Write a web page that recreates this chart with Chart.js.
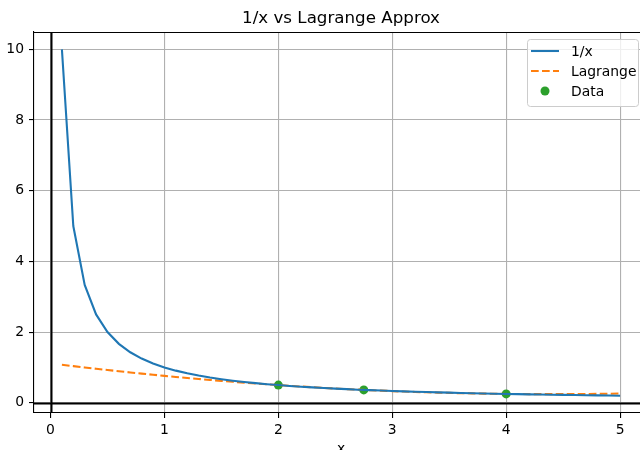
<!DOCTYPE html>
<html>
<head>
<meta charset="utf-8">
<script src="https://cdn.jsdelivr.net/npm/chart.js@4.4.1/dist/chart.umd.min.js"></script>
<style>
  html, body { margin: 0; padding: 0; overflow: hidden; background: #fff; }
  #wrap { width: 660px; height: 470px; }
</style>
</head>
<body>
<div id="wrap"><canvas id="c"></canvas></div>
<script>
// sample points
const xs = [0.1,0.2,0.3,0.4,0.5,0.6,0.7,0.8,0.9,1.0,1.1,1.2,1.3,1.4,1.5,1.6,1.7,1.8,1.9,2.0,
            2.1,2.2,2.3,2.4,2.5,2.6,2.7,2.8,2.9,3.0,3.1,3.2,3.3,3.4,3.5,3.6,3.7,3.8,3.9,4.0,
            4.1,4.2,4.3,4.4,4.5,4.6,4.7,4.8,4.9,5.0];
const invX = [10,5,3.333,2.5,2,1.667,1.429,1.25,1.111,1,0.909,0.833,0.769,0.714,0.667,0.625,0.588,0.556,0.526,0.5,
              0.476,0.455,0.435,0.417,0.4,0.385,0.370,0.357,0.345,0.333,0.323,0.3125,0.303,0.294,0.286,0.278,0.270,0.263,0.256,0.25,
              0.244,0.238,0.233,0.227,0.222,0.217,0.213,0.208,0.204,0.2];
const lagrange = [1.0743,1.0359,0.9984,0.9618,0.9261,0.8914,0.8575,0.8245,0.7925,0.7614,0.7311,0.7018,0.6734,0.6459,0.6193,0.5936,0.5689,0.5450,0.5220,0.5000,
                  0.4789,0.4586,0.4393,0.4209,0.4034,0.3868,0.3711,0.3564,0.3425,0.3295,0.3175,0.3064,0.2961,0.2868,0.2784,0.2709,0.2643,0.2586,0.2539,0.2500,
                  0.2470,0.2450,0.2439,0.2436,0.2443,0.2459,0.2484,0.2518,0.2561,0.2614];
const dataX = [2, 2.75, 4];
const dataY = [0.5, 0.3636, 0.25];
const xTicks = [0,1,2,3,4,5];
const yTicks = [0,2,4,6,8,10];

const FONT = "'DejaVu Sans', sans-serif";

const pts = (a, b) => a.map((v, i) => ({x: v, y: b[i]}));

// top spine + black zero lines
const extras = {
  id: 'extras',
  beforeDatasetsDraw(chart) {
    const {ctx, chartArea: a, scales: {x, y}} = chart;
    ctx.save();
    ctx.strokeStyle = '#000';
    ctx.lineWidth = 2;
    const y0 = Math.round(y.getPixelForValue(0)) + 0.5;
    const x0 = Math.round(x.getPixelForValue(0)) + 0.5;
    ctx.beginPath();
    ctx.moveTo(a.left, y0); ctx.lineTo(a.right, y0);
    ctx.moveTo(x0, a.top); ctx.lineTo(x0, a.bottom);
    ctx.stroke();
    ctx.lineWidth = 1.1;
    ctx.beginPath();
    ctx.moveTo(a.left, a.top + 0.5); ctx.lineTo(a.right, a.top + 0.5);
    ctx.moveTo(a.right - 0.5, a.top); ctx.lineTo(a.right - 0.5, a.bottom);
    ctx.stroke();
    ctx.restore();
  },
  afterDraw(chart) {
    // matplotlib style legend, upper right
    const ctx = chart.ctx;
    const bx = 527, by = 39, bw = 111, bh = 67;
    ctx.save();
    ctx.fillStyle = 'rgba(255,255,255,0.8)';
    ctx.strokeStyle = '#cccccc';
    ctx.lineWidth = 1;
    ctx.beginPath();
    ctx.roundRect(bx + 0.5, by + 0.5, bw, bh, 3);
    ctx.fill();
    ctx.stroke();
    ctx.font = '13.9px ' + FONT;
    ctx.textBaseline = 'middle';
    ctx.fillStyle = '#000';
    chart.data.datasets.forEach((ds, i) => {
      const cy = 51 + i * 20;
      ctx.strokeStyle = ds.borderColor;
      ctx.lineWidth = 2.08;
      if (ds.showLine === false) {
        ctx.fillStyle = ds.backgroundColor;
        ctx.beginPath();
        ctx.arc(545, cy, ds.pointRadius, 0, Math.PI * 2);
        ctx.fill();
      } else {
        ctx.setLineDash(ds.borderDash || []);
        ctx.beginPath();
        ctx.moveTo(531, cy); ctx.lineTo(559, cy);
        ctx.stroke();
        ctx.setLineDash([]);
      }
      ctx.fillStyle = '#000';
      ctx.fillText(ds.label, 571, cy + 1);
    });
    ctx.restore();
  }
};

new Chart(document.getElementById('c'), {
  type: 'line',
  data: {
    datasets: [
      { label: '1/x', data: pts(xs, invX), borderColor: '#1f77b4', backgroundColor: '#1f77b4',
        borderWidth: 2.08, pointRadius: 0, tension: 0 },
      { label: 'Lagrange', data: pts(xs, lagrange), borderColor: '#ff7f0e', backgroundColor: '#ff7f0e',
        borderWidth: 2.08, borderDash: [7.7, 3.3], pointRadius: 0, tension: 0 },
      { label: 'Data', data: pts(dataX, dataY), showLine: false, borderColor: '#2ca02c', backgroundColor: '#2ca02c',
        pointRadius: 4.5, pointBorderWidth: 0, pointHoverRadius: 4.5 }
    ]
  },
  options: {
    responsive: true,
    maintainAspectRatio: false,
    animation: false,
    events: [],
    layout: { padding: { left: 0, right: 12, top: 0, bottom: 0 } },
    plugins: {
      legend: { display: false },
      tooltip: { enabled: false },
      title: {
        display: true, text: '1/x vs Lagrange Approx', color: '#000', fullSize: false,
        font: { family: FONT, size: 16.7, weight: 'normal', lineHeight: 1.2 },
        padding: { top: 9, bottom: 3 }
      }
    },
    scales: {
      x: {
        type: 'linear', min: -0.145, max: 5.245,
        afterBuildTicks: s => { s.ticks = xTicks.map(v => ({value: v})); },
        afterFit: s => { s.height = 57; },
        grid: { color: '#b0b0b0', lineWidth: 1.1, tickColor: '#000', tickLength: 5, tickWidth: 1.1 },
        border: { color: '#000', width: 1.1 },
        ticks: { color: '#000', padding: 4, maxRotation: 0, font: { family: FONT, size: 13.9 } },
        title: { display: true, text: 'x', color: '#000', font: { family: FONT, size: 13.9 }, padding: { top: 0, bottom: 12 } }
      },
      y: {
        type: 'linear', min: -0.29, max: 10.49,
        afterBuildTicks: s => { s.ticks = yTicks.map(v => ({value: v})); },
        afterFit: s => { s.width = 34; },
        grid: { color: '#b0b0b0', lineWidth: 1.1, tickColor: '#000', tickLength: 5, tickWidth: 1.1 },
        border: { color: '#000', width: 1.1 },
        ticks: { color: '#000', padding: 5, font: { family: FONT, size: 13.9 } }
      }
    }
  },
  plugins: [extras]
});
</script>
</body>
</html>
